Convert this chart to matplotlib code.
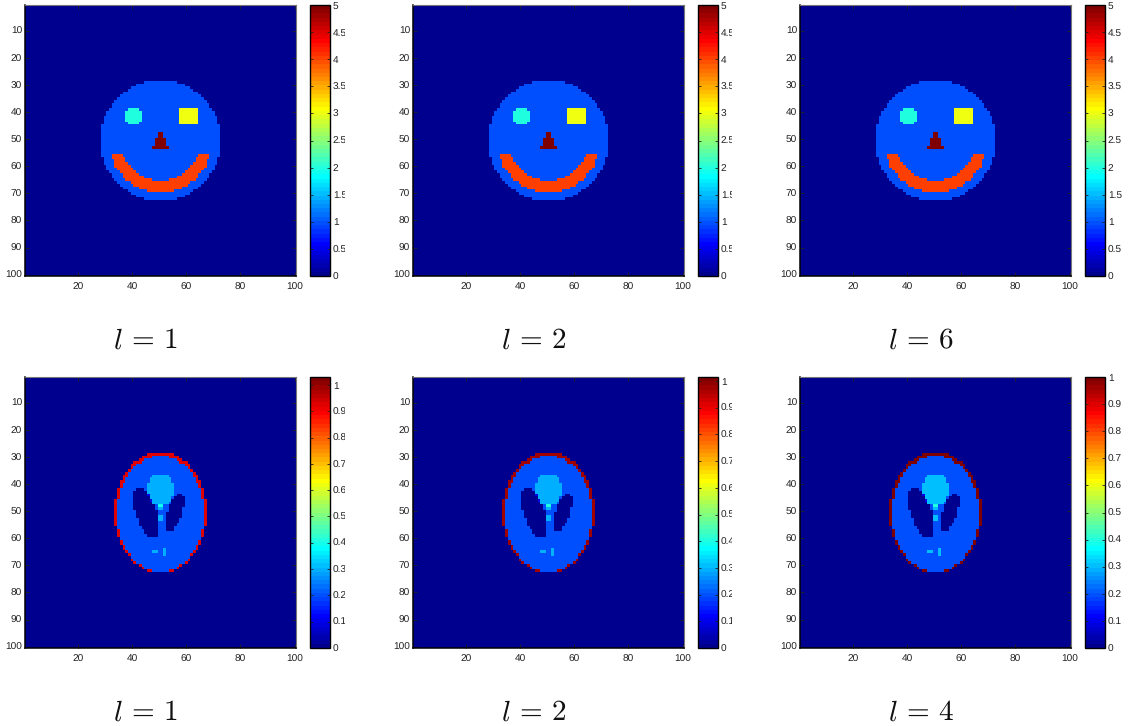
import numpy as np
import matplotlib
matplotlib.use('Agg')
import matplotlib.pyplot as plt
from matplotlib.colors import ListedColormap
from matplotlib.transforms import Bbox

plt.rcParams['font.family'] = ['Liberation Sans', 'DejaVu Sans']
plt.rcParams['mathtext.fontset'] = 'cm'
plt.rcParams['text.hinting'] = 'none'

W, H = 1132, 726

# axes positions, in pixels
col_left = [25, 413, 800]
cbar_left = [310, 698, 1085]
row_top = [5, 377]
ax_size = 271
cbar_w = 20

top_labels = [r'$l\,=\,1$', r'$l\,=\,2$', r'$l\,=\,6$']
bot_labels = [r'$l\,=\,1$', r'$l\,=\,2$', r'$l\,=\,4$']

# face: value, then shape sizes in image pixels
face_center = (50.5, 50.5)
face_radius = 22.2
face_value = 1.0
eye_center = (40.5, 41.5)
eye_radius = 3.3
eye_value = 2.0
square_x = (57.5, 64.6)
square_y = (38.5, 44.6)
square_value = 3.0
nose_apex = (50.5, 46.8)
nose_base_y = 53.5
nose_half = 3.2
nose_value = 5.0
smile_center = (50.5, 51.0)
smile_radii = (14.4, 18.8)
smile_top = 55.5
smile_value = 4.0
top_vmax = [5, 5, 5]
top_ticks = [0, 0.5, 1, 1.5, 2, 2.5, 3, 3.5, 4, 4.5, 5]
top_ticklabels = ['0', '0.5', '1', '1.5', '2', '2.5', '3', '3.5', '4', '4.5', '5']

# phantom ellipses: added value, semi axis a, semi axis b, x0, y0, angle
ell_value = [-0.8, -0.2, -0.2, 0.1, 0.1, 0.1, 0.1, 0.1]
ell_a = [0.672, 0.11, 0.16, 0.21, 0.046, 0.046, 0.046, 0.023]
ell_b = [0.89, 0.31, 0.41, 0.25, 0.046, 0.046, 0.023, 0.046]
ell_x = [0, 0.22, -0.22, 0, 0, 0, -0.08, 0.07]
ell_y = [-0.0184, 0, 0, 0.35, 0.1, -0.1, -0.605, -0.605]
ell_phi = [0, -18, 18, 0, 0, 0, 0, 0]
skull_a = 0.706
skull_b = 0.933
phantom_scale = 24.0
phantom_center = 50.5
rim_values = [0.92, 0.97, 1.0]
bot_vmax = [1.03, 1.015, 1.0]
bot_ticks = [0, 0.1, 0.2, 0.3, 0.4, 0.5, 0.6, 0.7, 0.8, 0.9, 1]
bot_ticklabels = ['0', '0.1', '0.2', '0.3', '0.4', '0.5', '0.6', '0.7', '0.8', '0.9', '1']

# right edge where the tick labels get cut off, None means not cut
label_clip = [345, 732, None]


def matlab_jet(n=64):
    # the old matlab jet, a bit different from the matplotlib one
    x = np.arange(1, n + 1) / n
    r = np.clip(np.minimum(4 * x - 1.5, -4 * x + 4.5), 0, 1)
    g = np.clip(np.minimum(4 * x - 0.5, -4 * x + 3.5), 0, 1)
    b = np.clip(np.minimum(4 * x + 0.5, -4 * x + 2.5), 0, 1)
    return ListedColormap(np.column_stack([r, g, b]))


def make_face():
    cols, rows = np.meshgrid(np.arange(1, 101), np.arange(1, 101))
    img = np.zeros((100, 100))
    img[np.hypot(cols - face_center[0], rows - face_center[1]) <= face_radius] = face_value
    img[np.hypot(cols - eye_center[0], rows - eye_center[1]) <= eye_radius] = eye_value
    img[(cols > square_x[0]) & (cols < square_x[1]) & (rows > square_y[0]) & (rows < square_y[1])] = square_value
    d = np.hypot(cols - smile_center[0], rows - smile_center[1])
    img[(d >= smile_radii[0]) & (d <= smile_radii[1]) & (rows >= smile_top)] = smile_value
    width = (rows - nose_apex[1]) / (nose_base_y - nose_apex[1]) * nose_half
    img[(rows >= nose_apex[1]) & (rows <= nose_base_y) & (np.abs(cols - nose_apex[0]) <= width)] = nose_value
    return img


def make_phantom(rim):
    cols, rows = np.meshgrid(np.arange(1, 101), np.arange(1, 101))
    x = (cols - phantom_center) / phantom_scale
    y = (phantom_center - rows) / phantom_scale
    img = np.zeros((100, 100))
    img[(x / skull_a) ** 2 + (y / skull_b) ** 2 <= 1] = rim
    # inner ellipses are taken relative to a rim of 1, so the brain stays at 0.2
    base = np.where(img > 0, 1.0, 0.0)
    for v, a, b, x0, y0, phi in zip(ell_value, ell_a, ell_b, ell_x, ell_y, ell_phi):
        t = np.deg2rad(phi)
        xr = (x - x0) * np.cos(t) + (y - y0) * np.sin(t)
        yr = -(x - x0) * np.sin(t) + (y - y0) * np.cos(t)
        base[(xr / a) ** 2 + (yr / b) ** 2 <= 1] += v
    inside = base < 0.99
    img[inside] = base[inside]
    return img


def draw_panel(fig, col, row, img, vmax, ticks, ticklabels, label):
    left = col_left[col] / W
    bottom = 1 - (row_top[row] + ax_size) / H
    ax = fig.add_axes([left, bottom, ax_size / W, ax_size / H])
    im = ax.imshow(img, cmap=matlab_jet(), vmin=0, vmax=vmax, extent=(0.5, 100.5, 100.5, 0.5),
                   interpolation='nearest', aspect='auto')
    ax.set_xticks(range(20, 101, 20))
    ax.set_yticks(range(10, 101, 10))
    ax.tick_params(direction='in', length=2.7, width=0.6, labelsize=7.3, top=True, right=True, pad=2, colors='#222222')
    ax.tick_params(axis='x', pad=4.5)
    for s in ['top', 'right']:
        ax.spines[s].set_color('#777777')
        ax.spines[s].set_linewidth(0.8)
    for s in ['left', 'bottom']:
        ax.spines[s].set_color('black')
        ax.spines[s].set_linewidth(1.1)

    cax = fig.add_axes([cbar_left[col] / W, bottom, cbar_w / W, ax_size / H])
    cb = fig.colorbar(im, cax=cax)
    cb.set_ticks(ticks)
    cb.set_ticklabels(ticklabels)
    cax.tick_params(direction='in', length=2.2, width=0.6, labelsize=7.3, left=True, right=True, pad=2, colors='#222222')
    cb.outline.set_edgecolor('black')
    cb.outline.set_linewidth(1.0)
    if label_clip[col] is not None:
        # the labels of the first two columns run into the next image and get cut
        box = Bbox([[0, 0], [label_clip[col], H]])
        for t in cax.get_yticklabels():
            t.set_clip_box(box)
            t.set_clip_on(True)

    center = (col_left[col] + ax_size / 2 - 15) / W
    fig.text(center, 1 - (row_top[row] + ax_size + 65) / H, label, fontsize=21, color='#111111',
             ha='center', va='center')


fig = plt.figure(figsize=(W / 100, H / 100), dpi=100)
face = make_face()
for c in range(3):
    draw_panel(fig, c, 0, face, top_vmax[c], top_ticks, top_ticklabels, top_labels[c])
for c in range(3):
    draw_panel(fig, c, 1, make_phantom(rim_values[c]), bot_vmax[c], bot_ticks, bot_ticklabels, bot_labels[c])

fig.savefig('out.png', dpi=100)
